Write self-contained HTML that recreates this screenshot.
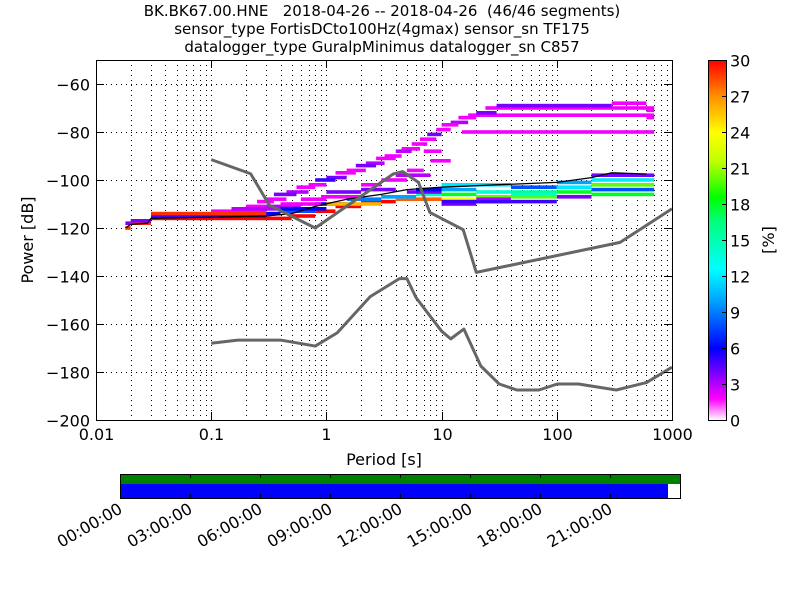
<!DOCTYPE html>
<html><head><meta charset="utf-8">
<style>
body{margin:0;background:#fff;}
svg{display:block;font-family:"DejaVu Sans","Liberation Sans",sans-serif;}
</style></head>
<body>
<svg id="chart" width="800" height="600" viewBox="0 0 800 600">
  <g font-size="15" text-anchor="middle" fill="#000">
    <text x="382" y="16" xml:space="preserve">BK.BK67.00.HNE   2018-04-26 -- 2018-04-26  (46/46 segments)</text>
    <text x="382" y="34">sensor_type FortisDCto100Hz(4gmax) sensor_sn TF175</text>
    <text x="382" y="52">datalogger_type GuralpMinimus datalogger_sn C857</text>
  </g>
  <g id="grid"></g>
  <g id="cells"></g>
  <g id="lines"></g>
  <rect x="96.5" y="60.5" width="576" height="360" fill="none" stroke="#000" stroke-width="1"/>
  <g id="axes"></g>
  <text x="384" y="465" font-size="16" text-anchor="middle">Period [s]</text>
  <text transform="translate(33,240) rotate(-90)" font-size="16" text-anchor="middle">Power [dB]</text>
  <defs><linearGradient id="cg" x1="0" y1="1" x2="0" y2="0">
    <stop offset="0" stop-color="#ffffff"/><stop offset="0.06" stop-color="#ff00ff"/><stop offset="0.12" stop-color="#9000ff"/>
    <stop offset="0.2" stop-color="#0000ff"/><stop offset="0.33" stop-color="#00a0ff"/><stop offset="0.42" stop-color="#00ffff"/>
    <stop offset="0.55" stop-color="#00ff80"/><stop offset="0.62" stop-color="#00ff00"/><stop offset="0.72" stop-color="#c0ff00"/>
    <stop offset="0.8" stop-color="#ffff00"/><stop offset="0.9" stop-color="#ff9000"/><stop offset="1" stop-color="#ff0000"/>
  </linearGradient></defs>
  <rect x="708.5" y="60.5" width="18" height="360" fill="url(#cg)" stroke="#000"/>
  <g id="cbar"></g>
  <text transform="translate(774,240) rotate(-90)" font-size="16" text-anchor="middle">[%]</text>
  <g>
    <rect x="120" y="474" width="560" height="10" fill="#008000"/>
    <rect x="120" y="484" width="548" height="14" fill="#0000ff"/>
    <rect x="120.5" y="474.5" width="560" height="24" fill="none" stroke="#000"/>
  </g>
  <g id="taxis"></g>
</svg>
<script>
// ---- data ----
const xTicks=[0.01,0.1,1,10,100,1000];
const xTickLabels=["0.01","0.1","1","10","100","1000"];
const yTicks=[-60,-80,-100,-120,-140,-160,-180,-200];
const cbTicks=[0,3,6,9,12,15,18,21,24,27,30];
const timeLabels=["00:00:00","03:00:00","06:00:00","09:00:00","12:00:00","15:00:00","18:00:00","21:00:00"];
// heatmap cells: period start, period end, dB, percent
const cellP0=[0.018,0.018,0.02,0.02,0.03,0.03,0.5,0.8,1.2,2,4,0.1,0.4,0.8,1.5,3,6,5,
 10,10,10,20,20,20,40,40,40,100,100,100,200,200,200,200,
 0.2,0.3,0.45,0.7,1,1.5,2.2,3.2,4.5,6.5,9,12,17,24,24,15,300,600,600,
 0.1,0.3,0.6,1,2,3,5,7,30,
 0.25,0.35,0.55,0.8,1.2,1.8,2.7,4,5.5,7.5,10,14,20,
 10,10,20,40,10,100,200,0.03,0.3,1,3,6,
 0.15,0.4,0.9,2,4,8];
const cellP1=[0.02,0.02,0.03,0.03,0.5,0.3,0.8,1.2,2,4,10,0.4,0.8,1.5,3,6,10,10,
 20,20,20,40,40,40,100,100,100,200,200,200,700,700,700,700,
 0.3,0.45,0.7,1,1.5,2.2,3.2,4.5,6.5,9,12,17,24,700,700,700,600,700,700,
 0.3,0.6,1,2,3,5,7,10,300,
 0.35,0.55,0.8,1.2,1.8,2.7,4,5.5,7.5,10,14,20,30,
 40,20,40,100,100,200,700,0.3,1,3,6,10,
 0.4,0.9,2,4,8,12];
const cellDb=[-120,-118,-118,-117,-116,-115,-115,-113,-111,-109,-108,-114,-113,-110,-108,-107,-106,-105,
 -104,-106,-108,-105,-107,-109,-103,-105,-107,-103,-105,-107,-98,-100,-102,-104,
 -111,-108,-105,-102,-99,-96,-93,-90,-87,-83,-79,-76,-73,-70,-73,-80,-68,-71,-74,
 -113,-111,-108,-105,-102,-100,-96,-88,-69,
 -109,-106,-103,-100,-97,-94,-91,-88,-85,-81,-77,-74,-72,
 -102,-110,-108,-106,-109,-101,-106,-114,-112,-110,-107,-104,
 -112,-110,-107,-104,-98,-92];
const cellPct=[29,4,29,4,30,5,30,30,30,30,28,6,8,6,9,12,15,4,
 10,18,24,14,20,9,8,16,20,12,18,4,4,12,20,8,
 2,2,3,2,4,2,3,2,2,2,2,3,2,2,2,2,2,2,2,
 2,3,2,4,2,2,2,2,4,
 2,4,2,5,2,4,2,3,2,4,2,2,4,
 12,4,3,14,5,10,18,29,6,26,10,6,
 3,2,2,4,3,2];
const meanP=[0.018,0.02,0.028,0.03,0.3,0.5,0.8,1.5,3,5,10,30,100,200,300,600];
const meanDb=[-120,-118.5,-118,-116,-115,-114,-111,-108,-106,-104,-103,-102,-101,-99,-97,-97.5];
const nhnmP=[0.1,0.22,0.32,0.8,3.8,4.6,6.3,7.9,15.4,20,354,1000];
const nhnmDb=[-91.5,-97.4,-110.5,-120,-97.5,-96.5,-101,-113.5,-120.7,-138.5,-126,-112];
const nlnmP=[0.1,0.17,0.4,0.8,1.24,2.4,4.3,5,6,10,12,15.6,21.9,31.6,45,70,101,154,328,600,1000];
const nlnmDb=[-168,-166.7,-166.7,-169.2,-163.7,-148.6,-141.1,-141.1,-149,-163,-166.2,-162.1,-177.5,-185,-187.5,-187.5,-185,-185,-187.5,-184.4,-178];
// ---- scales ----
const NS="http://www.w3.org/2000/svg";
const X=p=>96+(Math.log10(p)+2)*115.2;
const Y=d=>60+(-50-d)*2.4;
const CY=v=>420-v*12;
const stops=[[0,[255,255,255]],[0.06,[255,0,255]],[0.12,[144,0,255]],[0.2,[0,0,255]],[0.33,[0,160,255]],[0.42,[0,255,255]],[0.55,[0,255,128]],[0.62,[0,255,0]],[0.72,[192,255,0]],[0.8,[255,255,0]],[0.9,[255,144,0]],[1,[255,0,0]]];
function cmap(v){const t=Math.max(0,Math.min(1,v/30));for(let i=1;i<stops.length;i++){if(t<=stops[i][0]){const a=stops[i-1],b=stops[i],f=(t-a[0])/(b[0]-a[0]);return `rgb(${a[1].map((c,k)=>Math.round(c+(b[1][k]-c)*f)).join(',')})`;}}return 'rgb(255,0,0)';}
function mk(tag,attrs,parent){const e=document.createElementNS(NS,tag);for(const k in attrs)e.setAttribute(k,attrs[k]);parent.appendChild(e);return e;}
const grid=document.getElementById('grid'),cells=document.getElementById('cells'),lines=document.getElementById('lines'),axes=document.getElementById('axes'),cbar=document.getElementById('cbar'),taxis=document.getElementById('taxis');
// grid
for(let e=-2;e<3;e++){for(let m=1;m<10;m++){const x=Math.round(X(m*Math.pow(10,e)))+0.5;if(x<=97.5)continue;
 const l=mk('line',{x1:x,x2:x,y1:60,y2:420,stroke:'#000','stroke-width':1,'stroke-dasharray':'1,4','shape-rendering':'crispEdges'},grid);
 
 }}
yTicks.forEach(v=>{const y=Math.round(Y(v))+0.5;const l=mk('line',{x1:96,x2:672,y1:y,y2:y,stroke:'#000','stroke-width':1,'stroke-dasharray':'1,4','shape-rendering':'crispEdges'},grid);
 
 });
// cells
for(let i=0;i<cellP0.length;i++){
 const r=mk('rect',{x:X(cellP0[i]),y:Y(cellDb[i])-1.8,width:X(cellP1[i])-X(cellP0[i]),height:3.6,fill:cmap(cellPct[i])},cells);
 
 }
function poly(P,D,stroke,w,name){const pts=P.map((p,i)=>X(p)+','+Y(D[i])).join(' ');
 const l=mk('polyline',{points:pts,fill:'none',stroke:stroke,'stroke-width':w,'stroke-linejoin':'round'},lines);
 
 }
poly(meanP,meanDb,'#000',1.3,'mean-line');
poly(nhnmP,nhnmDb,'#666',3,'nhnm-line');
poly(nlnmP,nlnmDb,'#666',3,'nlnm-line');
// axes ticks
xTicks.forEach((v,i)=>{const x=Math.round(X(v))+0.5;
 mk('line',{x1:x,x2:x,y1:420,y2:412,stroke:'#000'},axes);
 mk('line',{x1:x,x2:x,y1:60,y2:68,stroke:'#000'},axes);
 const t=mk('text',{x:x,y:440,'font-size':16,'text-anchor':'middle'},axes);t.textContent=xTickLabels[i];
 
 });
yTicks.forEach(v=>{const y=Math.round(Y(v))+0.5;
 mk('line',{x1:96,x2:104,y1:y,y2:y,stroke:'#000'},axes);
 mk('line',{x1:664,x2:672,y1:y,y2:y,stroke:'#000'},axes);
 const t=mk('text',{x:90,y:y+6,'font-size':16,'text-anchor':'end'},axes);t.textContent='\u2212'+Math.abs(v);
 
 });
cbTicks.forEach(v=>{const y=Math.round(CY(v))+0.5;
 mk('line',{x1:722,x2:726,y1:y,y2:y,stroke:'#000'},cbar);
 const t=mk('text',{x:730,y:y+6,'font-size':16},cbar);t.textContent=v;
 
 });
timeLabels.forEach((s,i)=>{const x=120.5+i*70;
 mk('line',{x1:x,x2:x,y1:474,y2:478,stroke:'#000'},taxis);
 mk('line',{x1:x,x2:x,y1:494,y2:498,stroke:'#000'},taxis);
 const t=mk('text',{transform:`translate(${x+3},${512}) rotate(-30)`,'font-size':16,'text-anchor':'end'},taxis);t.textContent=s;
 
 });
</script>
</body></html>
